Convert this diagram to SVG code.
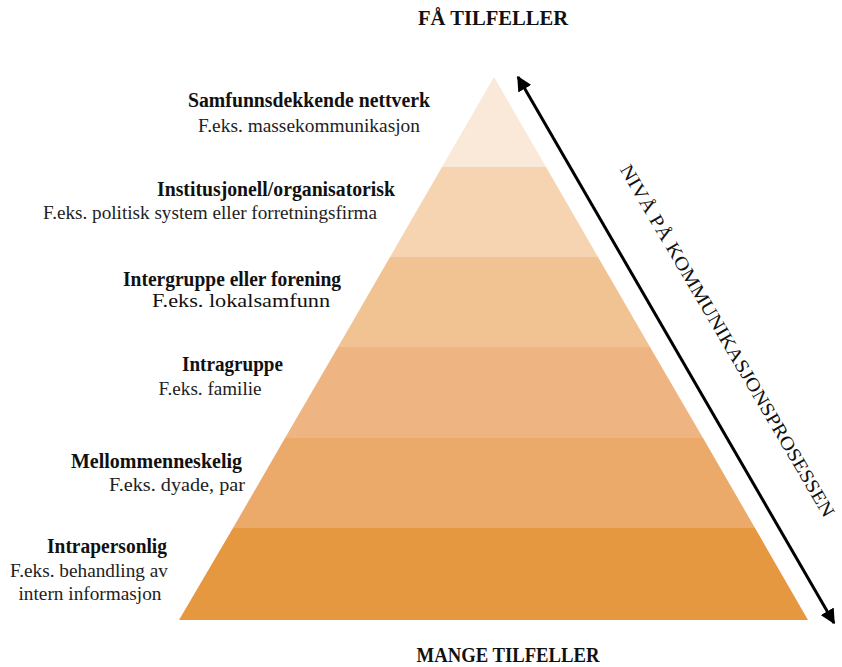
<svg xmlns="http://www.w3.org/2000/svg" width="842" height="667" viewBox="0 0 842 667">
<defs>
<style>
text{font-family:"Liberation Serif","Times New Roman","DejaVu Serif",serif;text-anchor:middle}
.t{font-weight:bold;font-size:20px;fill:#111}
.s{font-size:19px;fill:#222}
.h{font-weight:bold;font-size:20px;fill:#111}
.r{font-size:19px;fill:#111}
</style>
<marker id="ah" viewBox="0 0 10 10" refX="9" refY="5" markerWidth="5" markerHeight="5" orient="auto-start-reverse" markerUnits="strokeWidth">
<path d="M0,0 L10,5 L0,10 z" fill="#000"/>
</marker>
</defs>
<rect width="842" height="667" fill="#fff"/>
<g id="pyramid">
<polygon points="494,77 546,167 442,167" fill="#FAE8D8"/>
<polygon points="442,167 546,167 598,257 390,257" fill="#F6D4B2"/>
<polygon points="390,257 598,257 650,347 338,347" fill="#F1C292"/>
<polygon points="338,347 650,347 703,438 285,438" fill="#EEB582"/>
<polygon points="285,438 703,438 755,528 233,528" fill="#EBA96A"/>
<polygon points="233,528 755,528 808,620 179,620" fill="#E69840"/>
</g>
<g id="connectors">
<line x1="518" y1="77" x2="834" y2="623" stroke="#000" stroke-width="3" marker-start="url(#ah)" marker-end="url(#ah)"/>
</g>
<g id="axis-label">
<text class="r" font-size="20" transform="translate(722,344) rotate(59.6)" textLength="405" lengthAdjust="spacingAndGlyphs">NIVÅ PÅ KOMMUNIKASJONSPROSESSEN</text>
</g>
<g id="top-label"><text class="h" x="493" y="25" textLength="150" lengthAdjust="spacingAndGlyphs">FÅ TILFELLER</text></g>
<g id="bottom-label"><text class="h" x="508" y="662" textLength="183" lengthAdjust="spacingAndGlyphs">MANGE TILFELLER</text></g>
<g id="level6">
<text class="t" x="309" y="107" textLength="242" lengthAdjust="spacingAndGlyphs">Samfunnsdekkende nettverk</text>
<text class="s" x="309" y="132" textLength="222" lengthAdjust="spacingAndGlyphs">F.eks. massekommunikasjon</text>
</g>
<g id="level5">
<text class="t" x="276" y="196" textLength="238" lengthAdjust="spacingAndGlyphs">Institusjonell/organisatorisk</text>
<text class="s" x="210" y="219" textLength="334" lengthAdjust="spacingAndGlyphs">F.eks. politisk system eller forretningsfirma</text>
</g>
<g id="level4">
<text class="t" x="232" y="286" textLength="218" lengthAdjust="spacingAndGlyphs">Intergruppe eller forening</text>
<text class="r" x="241" y="307" font-size="21" textLength="178" lengthAdjust="spacingAndGlyphs">F.eks. lokalsamfunn</text>
</g>
<g id="level3">
<text class="t" x="232.5" y="371" textLength="101" lengthAdjust="spacingAndGlyphs">Intragruppe</text>
<text class="s" x="210" y="395" textLength="103" lengthAdjust="spacingAndGlyphs">F.eks. familie</text>
</g>
<g id="level2">
<text class="t" x="156.5" y="468" textLength="171" lengthAdjust="spacingAndGlyphs">Mellommenneskelig</text>
<text class="s" x="177" y="491" textLength="136" lengthAdjust="spacingAndGlyphs">F.eks. dyade, par</text>
</g>
<g id="level1">
<text class="t" x="107" y="553" textLength="120" lengthAdjust="spacingAndGlyphs">Intrapersonlig</text>
<text class="s" x="89" y="577" textLength="158" lengthAdjust="spacingAndGlyphs">F.eks. behandling av</text>
<text class="s" x="90" y="600" textLength="143" lengthAdjust="spacingAndGlyphs">intern informasjon</text>
</g>
</svg>
